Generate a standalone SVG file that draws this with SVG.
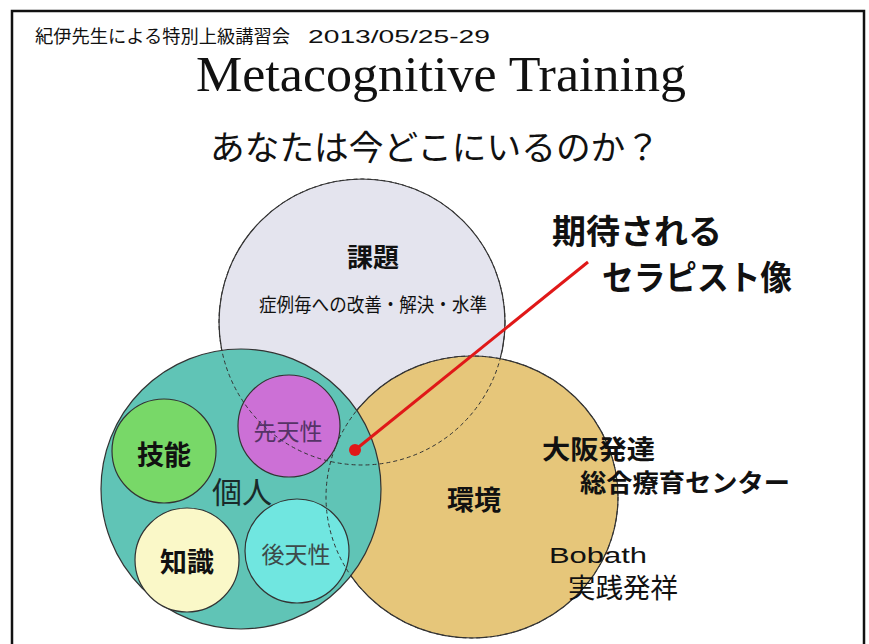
<svg xmlns="http://www.w3.org/2000/svg" width="869" height="644" viewBox="0 0 869 644">
<defs>
<style>
.jp{font-family:"Noto Sans CJK JP","Noto Sans",sans-serif;fill:#111;}
.b{font-weight:bold;}
.c{text-anchor:middle;}
.ol{stroke:#333;stroke-width:1.2;}
.hid{fill:none;stroke:#333;stroke-width:1;stroke-dasharray:4 3;}
</style>
</defs>
<rect x="0" y="0" width="869" height="644" fill="#fff"/>
<rect x="12" y="11" width="852" height="700" fill="none" stroke="#111" stroke-width="2.5"/>

<g id="header">
<text class="jp" x="35" y="43" font-size="18" textLength="255" lengthAdjust="spacingAndGlyphs">紀伊先生による特別上級講習会</text>
<text x="308" y="43" font-family="Liberation Sans, Arial, sans-serif" font-size="19" fill="#111" textLength="182" lengthAdjust="spacingAndGlyphs">2013/05/25-29</text>
</g>
<g id="title">
<text x="441" y="91" font-family="Liberation Serif, Times New Roman, serif" font-size="50" fill="#111" text-anchor="middle" textLength="490" lengthAdjust="spacingAndGlyphs">Metacognitive Training</text>
</g>
<g id="subtitle">
<text class="jp c" x="435" y="160" font-size="34" textLength="450" lengthAdjust="spacingAndGlyphs">あなたは今どこにいるのか？</text>
</g>

<g id="kadai">
<circle cx="362" cy="322" r="143" fill="#E4E4EE" class="ol"/>
</g>
<g id="kankyo">
<ellipse cx="472" cy="497" rx="146" ry="141" fill="#E6C67A" class="ol"/>
</g>
<g id="kojin">
<circle cx="241" cy="489" r="140" fill="#60C4B6" class="ol"/>
</g>
<g id="gino">
<circle cx="164" cy="451" r="52" fill="#78D868" class="ol"/>
<text class="jp b c" x="164" y="465" font-size="27">技能</text>
</g>
<g id="chishiki">
<circle cx="187" cy="560" r="52" fill="#FAF8C8" class="ol"/>
<text class="jp b c" x="187" y="572" font-size="27">知識</text>
</g>
<g id="sentensei">
<circle cx="289" cy="426" r="51" fill="#CC70D6" class="ol"/>
</g>
<g id="kotensei">
<circle cx="297" cy="551" r="52" fill="#70E6E0" class="ol"/>
</g>

<g id="hidden-outlines">
<circle cx="362" cy="322" r="143" class="hid"/>
<ellipse cx="472" cy="497" rx="146" ry="141" class="hid"/>
</g>

<g id="labels">
<text class="jp b c" x="373" y="267" font-size="26">課題</text>
<text class="jp c" x="373" y="312" font-size="19" fill="#222" textLength="228" lengthAdjust="spacingAndGlyphs">症例毎への改善・解決・水準</text>
<text class="jp c" x="288" y="440" font-size="23" style="fill:#553366">先天性</text>
<text class="jp c" x="296" y="563" font-size="23" style="fill:#3d4a4a">後天性</text>
<text class="jp c" x="242" y="503" font-size="30" style="fill:#1a2a2a">個人</text>
<text class="jp b c" x="474" y="510" font-size="27">環境</text>
<text class="jp b" x="542" y="459" font-size="26" textLength="113" lengthAdjust="spacingAndGlyphs">大阪発達</text>
<text class="jp b" x="580" y="492" font-size="25" textLength="210" lengthAdjust="spacingAndGlyphs">総合療育センター</text>
<text x="549" y="563" font-family="Liberation Sans, Arial, sans-serif" font-size="22" fill="#111" textLength="98" lengthAdjust="spacingAndGlyphs">Bobath</text>
<text class="jp" x="568" y="598" font-size="27.5">実践発祥</text>
</g>

<g id="therapist">
<text class="jp b" x="552" y="244" font-size="34">期待される</text>
<text class="jp b" x="602" y="290" font-size="34" textLength="190" lengthAdjust="spacingAndGlyphs">セラピスト像</text>
</g>

<g id="connectors">
<line x1="355" y1="450" x2="588" y2="262" stroke="#E01818" stroke-width="3"/>
<circle cx="355" cy="450" r="6" fill="#E01818"/>
</g>
</svg>
